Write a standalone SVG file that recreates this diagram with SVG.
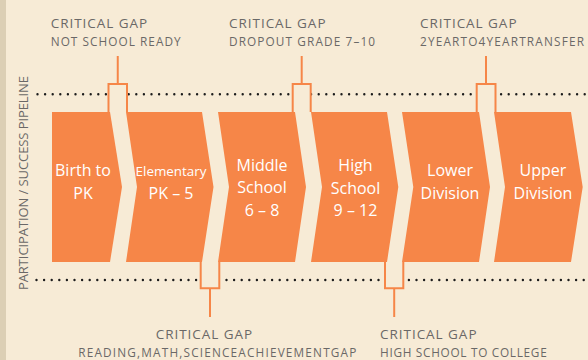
<svg xmlns="http://www.w3.org/2000/svg" width="588" height="360" viewBox="0 0 588 360">
<style>
.bg{fill:#f7ebd6}
.stage{fill:#f68648}
.st{font-family:"Open Sans","Noto Sans",sans-serif;fill:#ffffff;text-anchor:middle;font-size:16px}
.gap{font-family:"Open Sans","Noto Sans",sans-serif;fill:#6a6867;font-size:13.5px}
.sub{font-family:"Open Sans","Noto Sans",sans-serif;fill:#6a6867;font-size:11.8px}
.dots{stroke:#1c1c1c;stroke-width:2.4;stroke-linecap:round;stroke-dasharray:0 7.6;fill:none}
.br{fill:#f7ebd6;stroke:#f68648;stroke-width:2}
.stem{stroke:#f68648;stroke-width:2;fill:none}
</style>
<rect class="bg" x="0" y="0" width="588" height="360"/>
<rect x="0" y="0" width="6" height="360" fill="#dccfb5"/>
<text class="sub" transform="translate(28.3,183) rotate(-90)" text-anchor="middle" style="font-size:13px" textLength="214" lengthAdjust="spacing">PARTICIPATION / SUCCESS PIPELINE</text>
<g id="connectors">
<line class="dots" x1="37.5" y1="94.3" x2="586" y2="94.3"/>
<line class="dots" x1="36.5" y1="280" x2="586" y2="280"/>
<path class="br" d="M108.5,112 V84 H127 V112"/>
<path class="stem" d="M117.75,56 V84"/>
<path class="br" d="M292.7,112 V84 H310.7 V112"/>
<path class="stem" d="M301.7,56 V84"/>
<path class="br" d="M476.7,112 V84 H495.5 V112"/>
<path class="stem" d="M486,56 V84"/>
<path class="br" d="M200.7,262 V288.3 H219.3 V262"/>
<path class="stem" d="M210,288.3 V317"/>
<path class="br" d="M385,262 V288.3 H403.3 V262"/>
<path class="stem" d="M394.2,288.3 V317"/>
</g>
<g id="stage1">
<path class="stage" d="M52,112 L110,112 L122,187 L110,262 L52,262 Z"/>
<text class="st" x="83" y="176">Birth to</text>
<text class="st" x="83" y="199">PK</text>
</g>
<g id="stage2">
<path class="stage" d="M126,112 L202,112 L213.5,187 L202,262 L126,262 L137,187 Z"/>
<text class="st" x="171" y="176" style="font-size:13.4px">Elementary</text>
<text class="st" x="171" y="199">PK – 5</text>
</g>
<g id="stage3">
<path class="stage" d="M218,112 L295,112 L306,187 L295,262 L218,262 L229,187 Z"/>
<text class="st" x="262" y="170.5">Middle</text>
<text class="st" x="262" y="193">School</text>
<text class="st" x="262" y="215.5">6 – 8</text>
</g>
<g id="stage4">
<path class="stage" d="M311,112 L387,112 L398.3,187 L387,262 L311,262 L322,187 Z"/>
<text class="st" x="355.5" y="171">High</text>
<text class="st" x="355.5" y="193.5">School</text>
<text class="st" x="355.5" y="216">9 – 12</text>
</g>
<g id="stage5">
<path class="stage" d="M402,112 L479,112 L490,187 L479,262 L402,262 L413.3,187 Z"/>
<text class="st" x="450" y="176">Lower</text>
<text class="st" x="450" y="199">Division</text>
</g>
<g id="stage6">
<path class="stage" d="M494,112 L571,112 L582.7,187 L571,262 L494,262 L505,187 Z"/>
<text class="st" x="543" y="176">Upper</text>
<text class="st" x="543" y="199">Division</text>
</g>
<g id="gap1">
<text class="gap" x="50.7" y="28.3" textLength="96.5" lengthAdjust="spacing">CRITICAL GAP</text>
<text class="sub" x="50.7" y="45.7" textLength="130" lengthAdjust="spacing">NOT SCHOOL READY</text>
</g>
<g id="gap2">
<text class="gap" x="229" y="28.3" textLength="96.5" lengthAdjust="spacing">CRITICAL GAP</text>
<text class="sub" x="229" y="45.7" textLength="146" lengthAdjust="spacing">DROPOUT GRADE 7–10</text>
</g>
<g id="gap3">
<text class="gap" x="420" y="28.3" textLength="96.5" lengthAdjust="spacing">CRITICAL GAP</text>
<text class="sub" x="420" y="45.7" textLength="164" lengthAdjust="spacing">2YEARTO4YEARTRANSFER</text>
</g>
<g id="gap4">
<text class="gap" x="155.7" y="339" textLength="96.5" lengthAdjust="spacing">CRITICAL GAP</text>
<text class="sub" x="78.3" y="357" textLength="278" lengthAdjust="spacing">READING,MATH,SCIENCEACHIEVEMENTGAP</text>
</g>
<g id="gap5">
<text class="gap" x="380" y="339" textLength="96.5" lengthAdjust="spacing">CRITICAL GAP</text>
<text class="sub" x="380" y="357" textLength="166.7" lengthAdjust="spacing">HIGH SCHOOL TO COLLEGE</text>
</g>
</svg>
